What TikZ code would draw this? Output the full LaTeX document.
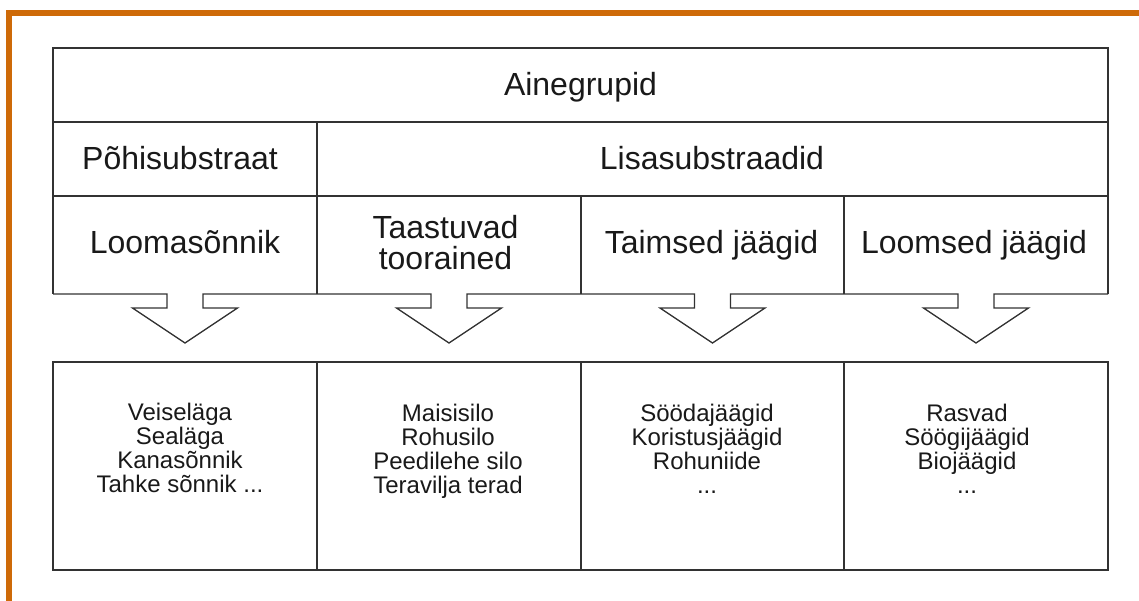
\documentclass[tikz,border=0pt]{standalone}
\usepackage{fontspec}
\setmainfont{Liberation Sans}
\definecolor{frameorange}{RGB}{206,106,8}
\definecolor{gridline}{RGB}{50,50,50}
\begin{document}
\begin{tikzpicture}[x=1pt,y=-1pt,
  grid/.style={draw=gridline, line width=1.3pt, line join=miter},
  head/.style={inner sep=0pt, anchor=base, align=center, text=black!90,
    font=\fontsize{32}{32}\selectfont},
  items/.style={inner sep=0pt, anchor=base, align=center, text=black!90,
    font=\fontsize{24}{24}\selectfont}]
\useasboundingbox (0,0) rectangle (1139,601);

% orange frame along the left and top edges
\draw[frameorange, line width=6pt] (9,601) -- (9,13) -- (1139,13);

% upper table: title row, group row, category row
\draw[grid] (53,294) -- (53,48) -- (1108,48) -- (1108,294);
\draw[grid] (53,122) -- (1108,122);
\draw[grid] (53,196) -- (1108,196);
\draw[grid] (317,122) -- (317,294);
\draw[grid] (581,196) -- (581,294);
\draw[grid] (844,196) -- (844,294);

% bottom edge of the upper table, opening into one arrow per column
\draw[grid] (53,294)
  \foreach \c in {185,449,712.5,976} {
    -- (\c-18,294) -- (\c-18,308) -- (\c-52.5,308) -- (\c,343)
    -- (\c+52.5,308) -- (\c+18,308) -- (\c+18,294)
  } -- (1108,294);

% lower table with the examples
\draw[grid] (53,362) rectangle (1108,570);
\draw[grid] (317,362) -- (317,570);
\draw[grid] (581,362) -- (581,570);
\draw[grid] (844,362) -- (844,570);

% headings (base anchor sits on the last line of a node)
\node[head] (ainegrupid) at (580.5,96) {Ainegrupid};
\node[head] (pohisubstraat) at (180,170) {Põhisubstraat};
\node[head] (lisasubstraadid) at (712,170) {Lisasubstraadid};
\node[head] (loomasonnik) at (185,254) {Loomasõnnik};
\node[head] (taastuvad) at (445.5,270) {Taastuvad\\toorained};
\node[head] (taimsed) at (711.5,254) {Taimsed jäägid};
\node[head] (loomsed) at (974,254) {Loomsed jäägid};

% examples
\node[items] (ex1) at (180,492) {Veiseläga\\Sealäga\\Kanasõnnik\\Tahke sõnnik ...};
\node[items] (ex2) at (448,493) {Maisisilo\\Rohusilo\\Peedilehe silo\\Teravilja terad};
\node[items] (ex3) at (707,493.5) {Söödajäägid\\Koristusjäägid\\Rohuniide\\...};
\node[items] (ex4) at (967,493.5) {Rasvad\\Söögijäägid\\Biojäägid\\...};
\end{tikzpicture}
\end{document}
